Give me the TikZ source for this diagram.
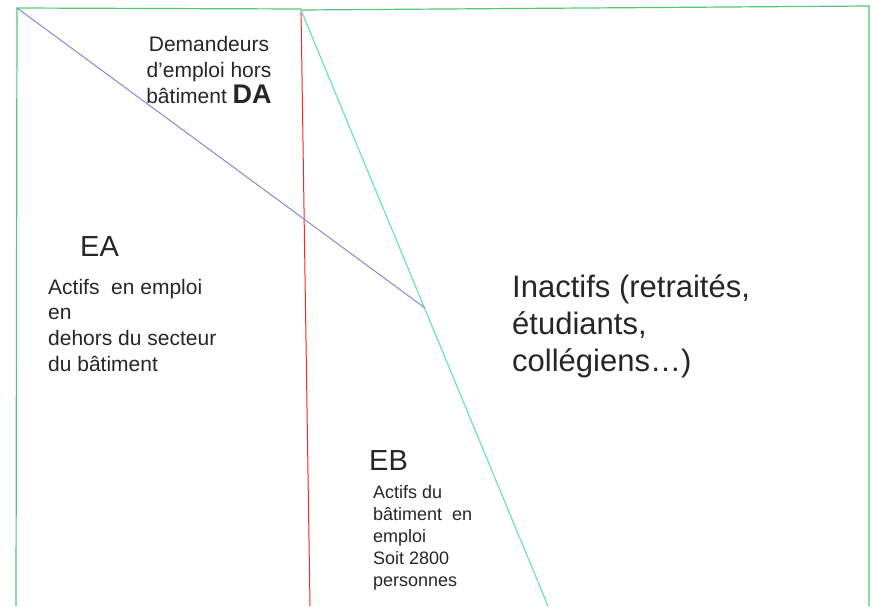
\documentclass[tikz,border=0pt]{standalone}
\usepackage{fontspec}
\setmainfont{Liberation Sans}
\definecolor{edgegreen}{RGB}{80,200,120}
\definecolor{diaggreen}{RGB}{110,228,175}
\definecolor{diagblue}{RGB}{125,140,210}
\definecolor{splitred}{RGB}{250,40,40}
\tikzset{
  frameline/.style={draw=edgegreen, line width=1.2pt},
  diagline/.style={draw=diaggreen, line width=1.2pt},
  blueline/.style={draw=diagblue, line width=1pt},
  redline/.style={draw=splitred, line width=1pt},
  lbl/.style={inner sep=0pt, text=black!85},
}
\begin{document}
\begin{tikzpicture}[x=1pt,y=-1pt]
\useasboundingbox (0,0) rectangle (873,606);
% corner / end coordinates
\coordinate (TL) at (17,8);
\coordinate (TM) at (301,9);
\coordinate (TMb) at (301,10);
\coordinate (TR) at (869,6);
\coordinate (BL) at (16,606);
\coordinate (BR) at (869,606);
\coordinate (Bred) at (310,606);
\coordinate (Bdiag) at (548,606);
\coordinate (P) at (425,308);
% frame
\draw[frameline] (BL) -- (TL) -- (TM);
\draw[frameline] (TMb) -- (TR) -- (BR);
% dividing lines
\draw[redline] (TMb) -- (Bred);
\draw[diagline] (TMb) -- (Bdiag);
\draw[blueline] (TL) -- (P);
% labels (multi-line nodes: base = last line's baseline)
\node[lbl, anchor=base, align=center, font=\fontsize{21}{26}\selectfont] (da) at (209,103)
  {Demandeurs\\d’emploi hors\\bâtiment {\bfseries\fontsize{27}{26}\selectfont DA}};
\node[lbl, anchor=base west, font=\fontsize{29}{35}\selectfont] (ea) at (80,256) {EA};
\node[lbl, anchor=base west, align=left, font=\fontsize{21}{25.6}\selectfont] (eatext) at (48,371)
  {Actifs\ \ en emploi\\en\\dehors du secteur\\du bâtiment};
\node[lbl, anchor=base west, align=left, font=\fontsize{31}{37}\selectfont] (inact) at (512,371)
  {Inactifs (retraités,\\étudiants,\\collégiens…)};
\node[lbl, anchor=base west, font=\fontsize{29}{35}\selectfont] (eb) at (369,470) {EB};
\node[lbl, anchor=base west, align=left, font=\fontsize{18}{22}\selectfont] (ebtext) at (373,586)
  {Actifs du\\bâtiment\ \ en\\emploi\\Soit 2800\\personnes};
\end{tikzpicture}
\end{document}
